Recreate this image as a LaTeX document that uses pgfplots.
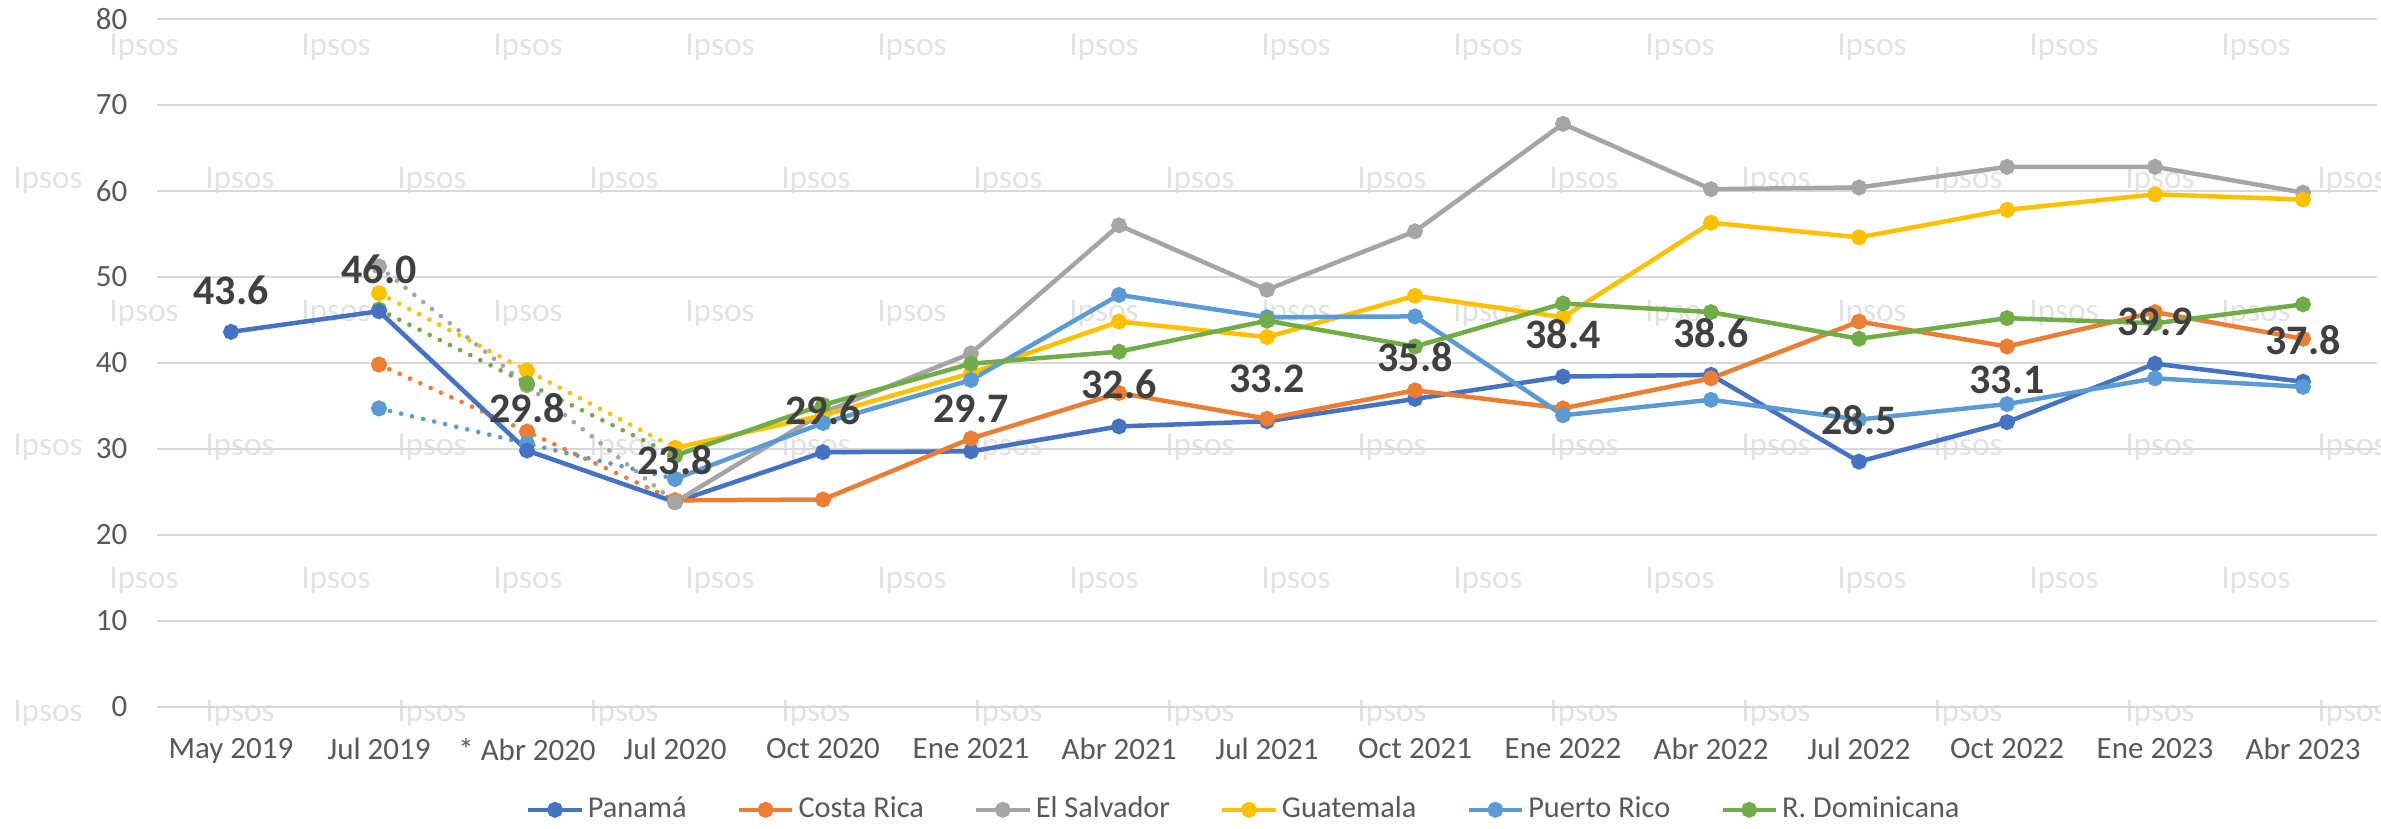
\documentclass[border=0pt]{standalone}
\usepackage{fontspec}
\setmainfont{Carlito}
\usepackage{pgfplots}
\pgfplotsset{compat=1.18}
\definecolor{cPan}{HTML}{4472C4}
\definecolor{cCR}{HTML}{ED7D31}
\definecolor{cES}{HTML}{A5A5A5}
\definecolor{cGT}{HTML}{FFC000}
\definecolor{cPR}{HTML}{5B9BD5}
\definecolor{cRD}{HTML}{70AD47}
\definecolor{gridc}{HTML}{D9D9D9}
\definecolor{txt}{HTML}{595959}
\definecolor{lbl}{HTML}{404040}
\definecolor{wm}{HTML}{E2E2E2}
\begin{document}
\begin{tikzpicture}
\useasboundingbox (-47.1pt,-36.7pt) rectangle (667.2pt,212.0pt);
% watermark grid
\foreach \y in {197.8,118.0,38.0} {
  \foreach \k in {0,...,11} {
    \node[text=wm, inner sep=0pt, font=\fontsize{10}{12}\selectfont] at ({(-3.9+57.6*\k)*1pt},{\y*1pt}) {Ipsos};
  }
}
\foreach \y in {157.9,77.8,-1.9} {
  \foreach \k in {0,...,12} {
    \node[text=wm, inner sep=0pt, font=\fontsize{10}{12}\selectfont] at ({(-32.7+57.6*\k)*1pt},{\y*1pt}) {Ipsos};
  }
}
\begin{axis}[
  scale only axis,
  width=666pt, height=206.3pt,
  xmin=-0.5, xmax=14.5, ymin=0, ymax=80,
  xtick={0,...,14},
  xticklabels={May 2019,Jul 2019,* Abr 2020,Jul 2020,Oct 2020,Ene 2021,Abr 2021,Jul 2021,Oct 2021,Ene 2022,Abr 2022,Jul 2022,Oct 2022,Ene 2023,Abr 2023},
  ytick={0,10,...,80},
  ymajorgrids,
  grid style={color=gridc, line width=0.6pt},
  axis line style={draw=none},
  major tick length=0pt,
  tick label style={text=txt, font=\fontsize{9.3}{11}\selectfont},
  /pgf/number format/assume math mode=true,
  xticklabel style={yshift=-6pt},
  yticklabel style={xshift=-5.4pt},
  clip=false,
  legend columns=-1,
  legend style={draw=none, fill=none, at={(0.49,-0.150)}, anchor=center,
    font=\fontsize{9.1}{11}\selectfont, text=txt,
    /tikz/every even column/.append style={column sep=13.8pt},
    nodes={inner xsep=1.2pt}},
  legend image code/.code={\draw[mark repeat=2,mark phase=2,#1] plot coordinates {(0pt,0pt) (8pt,0pt) (16pt,0pt)};},
  every axis plot/.append style={line width=1.35pt, mark=*, mark size=1.7pt, mark options={solid}},
  dotline/.style={line width=1.4pt, line cap=round, dash pattern=on 0pt off 3.4pt},
]
% dotted connecting segments
\addplot[forget plot, color=cCR, dotline] coordinates {(1,39.8) (2,32.0) (3,24.0)};
\addplot[forget plot, color=cES, dotline] coordinates {(1,51.2) (2,37.4) (3,23.8)};
\addplot[forget plot, color=cGT, dotline] coordinates {(1,48.1) (2,39.1) (3,30.1)};
\addplot[forget plot, color=cPR, dotline] coordinates {(1,34.7) (2,30.6) (3,26.5)};
\addplot[forget plot, color=cRD, dotline] coordinates {(1,46.2) (2,37.6) (3,29.2)};
% solid series
\addplot[color=cPan] coordinates {(0,43.6) (1,46.0) (2,29.8) (3,23.8) (4,29.6) (5,29.7) (6,32.6) (7,33.2) (8,35.8) (9,38.4) (10,38.6) (11,28.5) (12,33.1) (13,39.9) (14,37.8)};
\addlegendentry{Panamá}
\addplot[color=cCR] coordinates {(3,24.0) (4,24.1) (5,31.2) (6,36.5) (7,33.5) (8,36.8) (9,34.7) (10,38.2) (11,44.8) (12,41.9) (13,45.9) (14,42.8)};
\addlegendentry{Costa Rica}
\addplot[color=cES] coordinates {(3,23.8) (4,34.2) (5,41.1) (6,56.0) (7,48.5) (8,55.3) (9,67.8) (10,60.2) (11,60.4) (12,62.8) (13,62.8) (14,59.8)};
\addlegendentry{El Salvador}
\addplot[color=cGT] coordinates {(3,30.1) (4,33.9) (5,38.8) (6,44.8) (7,43.0) (8,47.8) (9,45.3) (10,56.3) (11,54.6) (12,57.8) (13,59.6) (14,59.0)};
\addlegendentry{Guatemala}
\addplot[color=cPR] coordinates {(3,26.5) (4,33.0) (5,38.0) (6,47.9) (7,45.3) (8,45.4) (9,33.9) (10,35.7) (11,33.4) (12,35.2) (13,38.2) (14,37.2)};
\addlegendentry{Puerto Rico}
\addplot[color=cRD] coordinates {(3,29.2) (4,35.1) (5,39.9) (6,41.3) (7,44.9) (8,41.9) (9,46.9) (10,45.9) (11,42.8) (12,45.2) (13,44.6) (14,46.8)};
\addlegendentry{R. Dominicana}
% data labels for Panama
\addplot[forget plot, draw=none, mark=none,
  nodes near coords={\pgfmathprintnumber[fixed,zerofill,precision=1]{\pgfplotspointmeta}},
  every node near coord/.style={anchor=center, yshift=12.6pt, text=lbl, font=\bfseries\fontsize{12.6}{14}\selectfont}]
  coordinates {(0,43.6) (1,46.0) (2,29.8) (3,23.8) (4,29.6) (5,29.7) (6,32.6) (7,33.2) (8,35.8) (9,38.4) (10,38.6) (11,28.5) (12,33.1) (13,39.9) (14,37.8)};
\end{axis}
\end{tikzpicture}
\end{document}
